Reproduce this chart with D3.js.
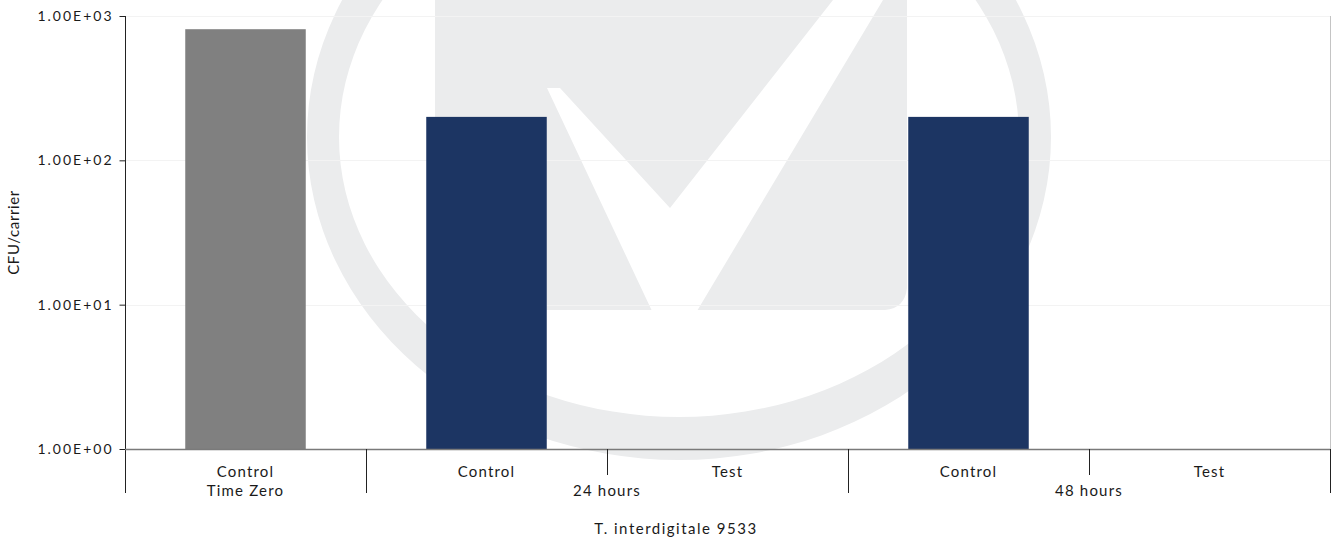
<!DOCTYPE html>
<html>
<head>
<meta charset="utf-8">
<script src="https://cdn.jsdelivr.net/npm/d3@7/dist/d3.min.js"></script>
<style>
  html, body { margin: 0; padding: 0; background: #fff; }
  svg { display: block; }
  text { font-family: Lato, "Open Sans", sans-serif; fill: #1a1a1a; }
</style>
</head>
<body>
<svg id="chart" width="1338" height="540"></svg>
<script>
// ---- data ----
const categories = ["Control", "Control", "Test", "Control", "Test"];
const categoryGroup = [0, 1, 1, 2, 2];
const groups = ["Time Zero", "24 hours", "48 hours"];
const values = [810, 200, null, 200, null];   // Test: no surviving growth (no bar)
const barColors = ["#808080", "#1c3563", "#1c3563", "#1c3563", "#1c3563"];
const yTicks = [1, 10, 100, 1000];
const yTickLabels = ["1.00E+00", "1.00E+01", "1.00E+02", "1.00E+03"];
const yTitle = "CFU/carrier";
const xTitle = "T. interdigitale 9533";

// ---- layout ----
const W = 1338, H = 540;
const m = { left: 125, right: 8, top: 16, bottom: 91 };
const svg = d3.select("#chart");

const ids = categories.map((c, i) => i);
const x = d3.scaleBand().domain(ids).range([m.left, W - m.right]).padding(0);
const y = d3.scaleLog().domain([1, 1000]).range([H - m.bottom, m.top]);
const y0 = y(1);

// ---- background watermark (approximate logo) ----
const wmColor = "#ebeced";
const ex = 679, ey = 137;
svg.append("path")
  .attr("fill", wmColor).attr("fill-rule", "evenodd")
  .attr("d", (() => {
    const ell = (rx, ry) => `M${ex - rx},${ey} a${rx},${ry} 0 1,0 ${2 * rx},0 a${rx},${ry} 0 1,0 ${-2 * rx},0 Z`;
    return ell(372, 323) + " " + ell(340, 280);
  })());
// block
svg.append("path").attr("fill", wmColor)
  .attr("d", "M435,0 L907,0 L907,288 Q905,308 885,310 L435,310 Z");
// white V cut
svg.append("path").attr("fill", "#fff")
  .attr("d", "M547,88 L560,88 L670,208 L833,0 L883,0 L697,311 L652,311 Z");

// ---- gridlines ----
svg.append("g").selectAll("line").data(yTicks).join("line")
  .attr("x1", m.left).attr("x2", W - m.right)
  .attr("y1", d => Math.round(y(d)) + 0.5).attr("y2", d => Math.round(y(d)) + 0.5)
  .attr("stroke", "#f3f3f3").attr("stroke-width", 1.2);

// right border
svg.append("line")
  .attr("x1", W - m.right + 0.5).attr("x2", W - m.right + 0.5)
  .attr("y1", m.top).attr("y2", y0)
  .attr("stroke", "#c4c4c4");

// ---- bars ----
const bw = x.bandwidth() / 2;
svg.append("g").selectAll("rect")
  .data(ids.filter(i => values[i] != null && values[i] > 1))
  .join("rect")
  .attr("x", i => x(i) + x.bandwidth() / 4)
  .attr("width", bw)
  .attr("y", i => y(values[i]))
  .attr("height", i => y0 - y(values[i]))
  .attr("fill", i => barColors[i]);

// ---- y axis ----
const yAxis = d3.axisLeft(y).tickValues(yTicks)
  .tickFormat((d, i) => yTickLabels[i]).tickSize(6).tickPadding(6);
const gy = svg.append("g").attr("transform", `translate(${m.left + 0.5},0)`).call(yAxis);
gy.select(".domain").remove();
gy.selectAll(".tick line").attr("stroke", "#222");
gy.selectAll(".tick text").attr("font-size", 14).attr("font-family", "Lato, sans-serif")
  .attr("fill", "#1a1a1a").attr("letter-spacing", "2px");
svg.append("line").attr("x1", m.left + 0.5).attr("x2", m.left + 0.5)
  .attr("y1", m.top).attr("y2", 493).attr("stroke", "#222");

// ---- x axis baseline ----
svg.append("line").attr("x1", m.left).attr("x2", W - m.right)
  .attr("y1", y0 + 0.5).attr("y2", y0 + 0.5).attr("stroke", "#7a7a7a").attr("stroke-width", 1.3);

// separators between categories
const bounds = d3.range(1, ids.length + 1).map(i => {
  const xb = i < ids.length ? x(i) : x.range()[1];
  const longLine = i === ids.length || categoryGroup[i] !== categoryGroup[i - 1];
  return { xb, longLine };
});
svg.append("g").selectAll("line").data(bounds).join("line")
  .attr("x1", d => Math.round(d.xb) + 0.5).attr("x2", d => Math.round(d.xb) + 0.5)
  .attr("y1", y0).attr("y2", d => d.longLine ? 493 : 475)
  .attr("stroke", "#222");

// category labels
svg.append("g").selectAll("text").data(ids).join("text")
  .attr("x", i => x(i) + x.bandwidth() / 2)
  .attr("y", 477)
  .attr("text-anchor", "middle").attr("font-size", 15).attr("letter-spacing", "1.2px")
  .text(i => categories[i]);

// group labels
const groupCenters = groups.map((g, gi) => {
  const members = ids.filter(i => categoryGroup[i] === gi);
  return (x(members[0]) + x(members[members.length - 1]) + x.bandwidth()) / 2;
});
svg.append("g").selectAll("text").data(groups).join("text")
  .attr("x", (g, gi) => groupCenters[gi])
  .attr("y", 496)
  .attr("text-anchor", "middle").attr("font-size", 15).attr("letter-spacing", "1.2px")
  .text(g => g);

// axis titles
svg.append("text").attr("x", 676).attr("y", 534).attr("text-anchor", "middle")
  .attr("font-size", 15).attr("letter-spacing", "1.5px").text(xTitle);
svg.append("text").attr("transform", `translate(19,${(m.top + y0) / 2}) rotate(-90)`)
  .attr("text-anchor", "middle").attr("font-size", 15).attr("letter-spacing", "0.6px").text(yTitle);
</script>
</body>
</html>
